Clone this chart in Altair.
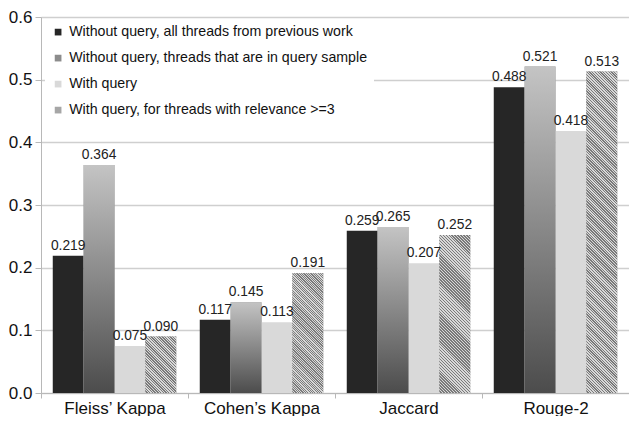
import altair as alt
import pandas as pd

categories = ["Fleiss’ Kappa", "Cohen’s Kappa", "Jaccard", "Rouge-2"]
series = [
    "Without query, all threads from previous work",
    "Without query, threads that are in query sample",
    "With query",
    "With query, for threads with relevance >=3",
]
s1 = [0.219, 0.117, 0.259, 0.488]
s2 = [0.364, 0.145, 0.265, 0.521]
s3 = [0.075, 0.113, 0.207, 0.418]
s4 = [0.090, 0.191, 0.252, 0.513]
y_ticks = [0.0, 0.1, 0.2, 0.3, 0.4, 0.5, 0.6]
y_max = 0.6

rows = []
for name, vals in zip(series, [s1, s2, s3, s4]):
    for c, v in zip(categories, vals):
        rows.append({"metric": c, "series": name, "value": v})
df = pd.DataFrame(rows)

W, H = 588, 376
step = W / 4
bar_w = step * 0.84 / 4
FONT = "Liberation Sans"

x = alt.X(
    "metric:N", sort=categories, title=None,
    scale=alt.Scale(paddingInner=0.16, paddingOuter=0.08),
    axis=alt.Axis(labelFontSize=17, labelColor="#111", labelFont=FONT, labelPadding=2,
                  domainColor="#b8b8b8", tickColor="#b8b8b8", tickSize=5,
                  tickOffset=-step / 2, labelOffset=step / 2, labelAngle=0, grid=False),
)
xo = alt.XOffset("series:N", sort=series, scale=alt.Scale(domain=series, paddingInner=0))
y = alt.Y(
    "value:Q",
    scale=alt.Scale(domain=[0, y_max], nice=False),
    axis=alt.Axis(values=y_ticks, format=".1f", title=None, labelFontSize=17, labelFont=FONT,
                  labelColor="#111", gridColor="#cfcfcf", gridWidth=1.5,
                  domainColor="#b8b8b8", tickColor="#b8b8b8", tickSize=6, labelPadding=3),
)

colors = ["#262626", "#8c8c8c", "#d9d9d9", "#a6a6a6"]

base = alt.Chart(df).encode(x=x, xOffset=xo, y=y)

bars = base.mark_bar().encode(
    color=alt.Color(
        "series:N", sort=series,
        scale=alt.Scale(domain=series, range=colors),
        legend=alt.Legend(title=None, orient="none", legendX=4, legendY=2, fillColor="white",
                          symbolType="square", symbolSize=45, labelFontSize=14.2, labelFont=FONT,
                          labelColor="#111", rowPadding=11, padding=6, symbolStrokeWidth=0,
                          labelLimit=500),
    )
)

grad = alt.Gradient(
    gradient="linear",
    stops=[alt.GradientStop(color="#c4c4c4", offset=0), alt.GradientStop(color="#4c4c4c", offset=1)],
    x1=0, x2=0, y1=0, y2=1,
)
grad_bars = base.transform_filter(alt.datum.series == series[1]).mark_bar(color=grad)


def hatch(value, period=3.0, light="#d8d8d8", dark="#7a7a7a"):
    # diagonal "\\" stripes expressed in the bar's bounding-box units
    w = bar_w
    h = value / y_max * H
    k = (w + h) / (w * w + h * h)
    want = (w + h) / period
    n = min([16, 32, 64, 128], key=lambda p: abs(p - want))
    stops = []
    for i in range(n):
        a = i / n
        m = (i + 0.5) / n
        b = (i + 1) / n
        stops += [
            alt.GradientStop(color=light, offset=a),
            alt.GradientStop(color=light, offset=m),
            alt.GradientStop(color=dark, offset=m),
            alt.GradientStop(color=dark, offset=b),
        ]
    return alt.Gradient(gradient="linear", stops=stops, x1=0, y1=1, x2=k * w, y2=1 - k * h)


hatch_layers = [
    base.transform_filter((alt.datum.series == series[3]) & (alt.datum.metric == c)).mark_bar(
        color=hatch(v)
    )
    for c, v in zip(categories, s4)
]

labels = base.mark_text(dy=-10, fontSize=13.8, font=FONT, color="#222").encode(
    text=alt.Text("value:Q", format=".3f")
)

chart = (
    alt.layer(bars, grad_bars, *hatch_layers, labels)
    .properties(width=W, height=H, padding={"left": 0, "top": 0, "right": 0, "bottom": 0})
    .configure_view(stroke=None)
    .configure(font=FONT)
)

chart.save("out.html", embed_options={"renderer": "svg", "actions": False})
